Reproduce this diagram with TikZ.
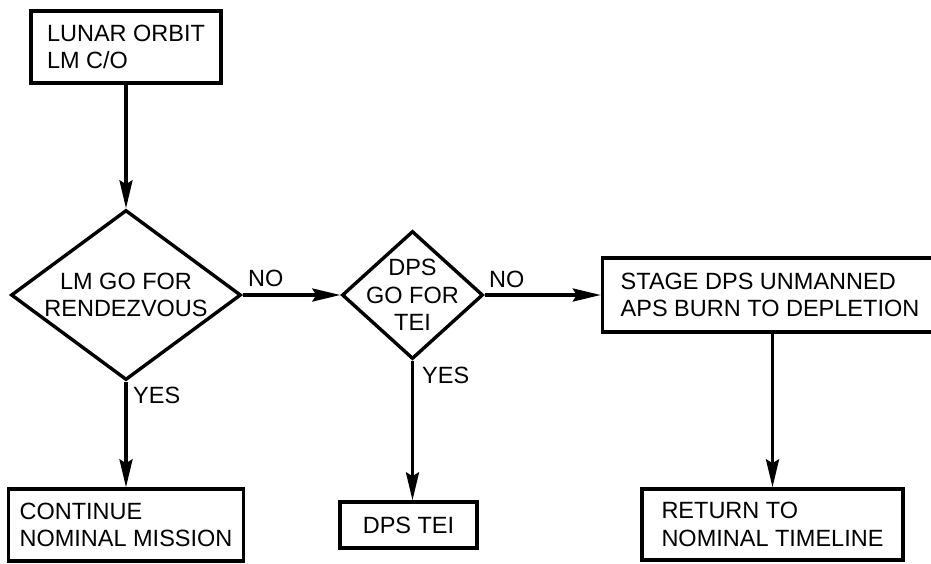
\documentclass[tikz,border=0pt]{standalone}
\usepackage{fontspec}
\setmainfont{Liberation Sans}
\usetikzlibrary{shapes.geometric,arrows.meta}
\begin{document}
\begin{tikzpicture}[x=1pt,y=-1pt,
  every node/.style={font=\fontsize{23.5}{27.5}\selectfont},
  boxnode/.style={draw,line width=3.4pt,rectangle,align=left,inner sep=0pt},
  decnode/.style={draw,line width=3.4pt,diamond,inner sep=0pt},
  dectext/.style={align=center,inner sep=0pt},
  lbl/.style={anchor=base west,inner sep=0pt},
  arr/.style={line width=3.4pt,-{Stealth[length=28pt,width=13pt,inset=4pt]}}]
\useasboundingbox (0,0) rectangle (931,563);
\clip (0,0) rectangle (931,563);
% boxes
\node[boxnode,minimum width=190pt,minimum height=72pt] (orbit) at (126,47) {LUNAR ORBIT\\LM C/O};
\node[boxnode,minimum width=235pt,minimum height=72pt] (cont) at (126,525) {CONTINUE\\NOMINAL MISSION};
\node[boxnode,align=center,minimum width=137pt,minimum height=46pt] (tei) at (408.5,525) {DPS TEI};
\node[boxnode,minimum width=261pt,minimum height=71pt] (ret) at (772.5,524.5) {RETURN TO\\NOMINAL TIMELINE};
\node[boxnode,minimum width=335pt,minimum height=74pt] (stage) at (770,295) {STAGE DPS UNMANNED\\APS BURN TO DEPLETION};
% decisions
\node[decnode,minimum width=230pt,minimum height=170pt] (d1) at (126,295) {};
\node[dectext] (d1t) at (126,295) {LM GO FOR\\RENDEZVOUS};
\node[decnode,minimum width=141pt,minimum height=128pt] (d2) at (412.5,295) {};
\node[dectext] (d2t) at (412.5,295) {DPS\\GO FOR\\TEI};
% connectors
\draw[arr] (orbit.south) -- (d1.north);
\draw[arr] (d1.east) -- (d2.west);
\draw[arr] (d2.east) -- (stage.west);
\draw[arr] (d1.south) -- (cont.north);
\draw[arr] (d2.south) -- (d2.south |- tei.north);
\draw[arr] (ret.north |- stage.south) -- (ret.north);
% labels
\node[lbl] (no1) at (248,286) {NO};
\node[lbl] (no2) at (489,287) {NO};
\node[lbl] (yes1) at (133,403) {YES};
\node[lbl] (yes2) at (422,383) {YES};
\end{tikzpicture}
\end{document}
